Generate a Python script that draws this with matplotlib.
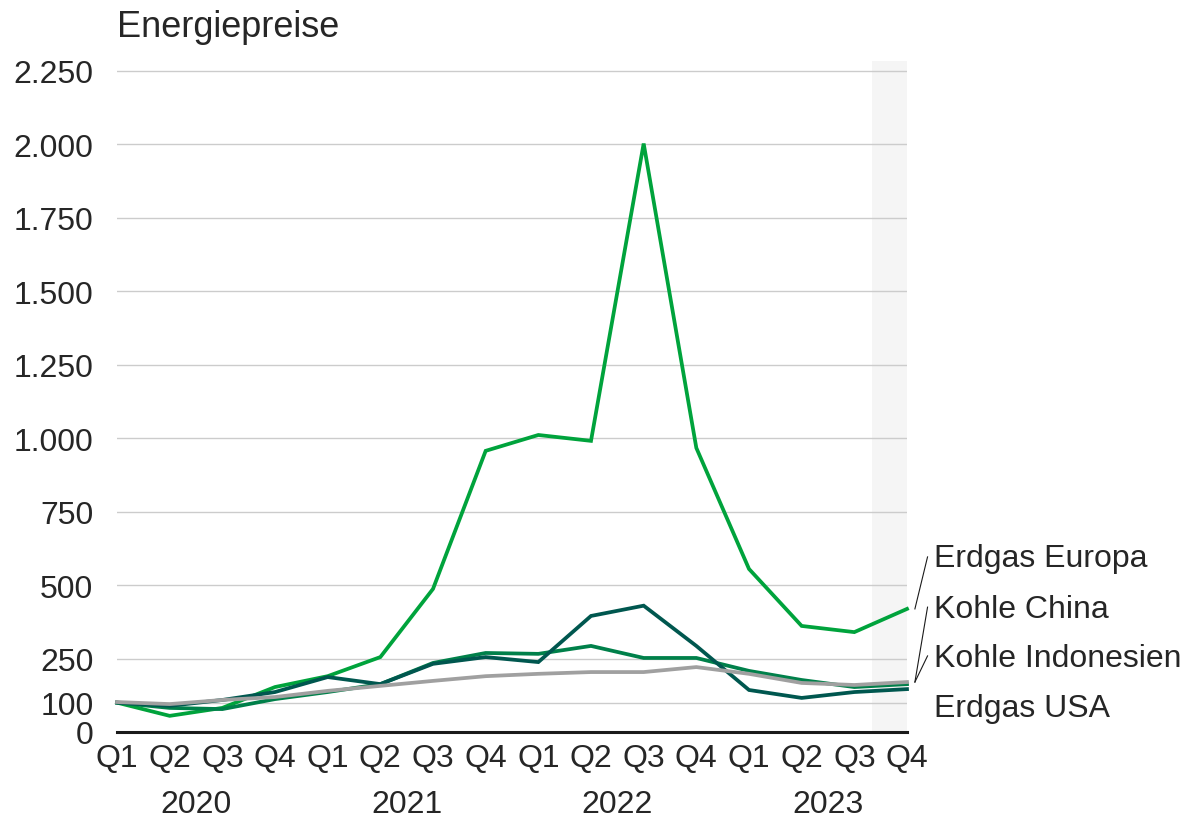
import matplotlib.pyplot as plt

plt.rcParams['font.family'] = ['Liberation Sans', 'DejaVu Sans']

quartale = ["Q1", "Q2", "Q3", "Q4"] * 4
jahre = ["2020", "2021", "2022", "2023"]

erdgas_europa = [100, 55, 82, 153, 190, 255, 487, 957, 1011, 991, 2003, 967, 555, 361, 340, 419]
kohle_china = [100, 89, 109, 136, 187, 163, 232, 255, 238, 395, 430, 293, 143, 116, 136, 146]
kohle_indonesien = [100, 82, 78, 112, 136, 163, 235, 269, 266, 293, 252, 252, 208, 177, 153, 163]
erdgas_usa = [102, 95, 109, 119, 140, 157, 174, 190, 198, 204, 204, 221, 198, 167, 160, 170]

y_ticks = [0, 100, 250, 500, 750, 1000, 1250, 1500, 1750, 2000, 2250]
y_labels = ["0", "100", "250", "500", "750", "1.000", "1.250", "1.500", "1.750", "2.000", "2.250"]

serien = [
    ("Erdgas Europa", erdgas_europa, "#00a33c"),
    ("Kohle Indonesien", kohle_indonesien, "#00804a"),
    ("Kohle China", kohle_china, "#00574f"),
    ("Erdgas USA", erdgas_usa, "#a0a0a0"),
]

textfarbe = "#262626"
fs = 23

fig = plt.figure(figsize=(11.84, 8.2), dpi=100)
ax = fig.add_axes([117 / 1184, 87 / 820, 790 / 1184, 671 / 820])

x = list(range(len(quartale)))

# Prognosebereich
ax.axvspan(14.33, 15, color="#f5f5f5", zorder=0, lw=0)

for t in y_ticks[1:]:
    ax.axhline(t, color="#cccccc", lw=1.0, zorder=1)
ax.axhline(0, color="#1a1a1a", lw=2.2, zorder=3, clip_on=False)

for name, werte, farbe in serien:
    ax.plot(x, werte, color=farbe, lw=2.7, zorder=4, clip_on=False,
            solid_joinstyle="miter")

ax.set_xlim(0, 15)
ax.set_ylim(0, 2284)
for s in ax.spines.values():
    s.set_visible(False)

ax.set_yticks(y_ticks)
ax.set_yticklabels(y_labels, fontsize=fs, color=textfarbe)
ax.set_xticks(x)
ax.set_xticklabels(quartale, fontsize=fs, color=textfarbe)
ax.tick_params(axis="both", length=0)
ax.tick_params(axis="y", pad=17)
ax.tick_params(axis="x", pad=8)

for i, jahr in enumerate(jahre):
    ax.text(i * 4 + 1.5, -245, jahr, ha="center", va="center",
            fontsize=fs, color=textfarbe)

ax.text(0, 2369, "Energiepreise", ha="left", va="baseline",
        fontsize=26, color=textfarbe)

# Beschriftungen rechts
label_y = {"Erdgas Europa": 565, "Kohle China": 391,
           "Kohle Indonesien": 225, "Erdgas USA": 54}
for name, yy in label_y.items():
    ax.text(15.52, yy, name, ha="left", va="baseline", fontsize=fs,
            color=textfarbe, clip_on=False)

verbinder = [
    ((15.39, 596), (15.15, 419)),
    ((15.39, 425), (15.15, 170)),
    ((15.39, 259), (15.15, 170)),
]
for (x0, y0), (x1, y1) in verbinder:
    ax.plot([x0, x1], [y0, y1], color="#1a1a1a", lw=0.8, clip_on=False)

fig.savefig("out.png", dpi=100)
